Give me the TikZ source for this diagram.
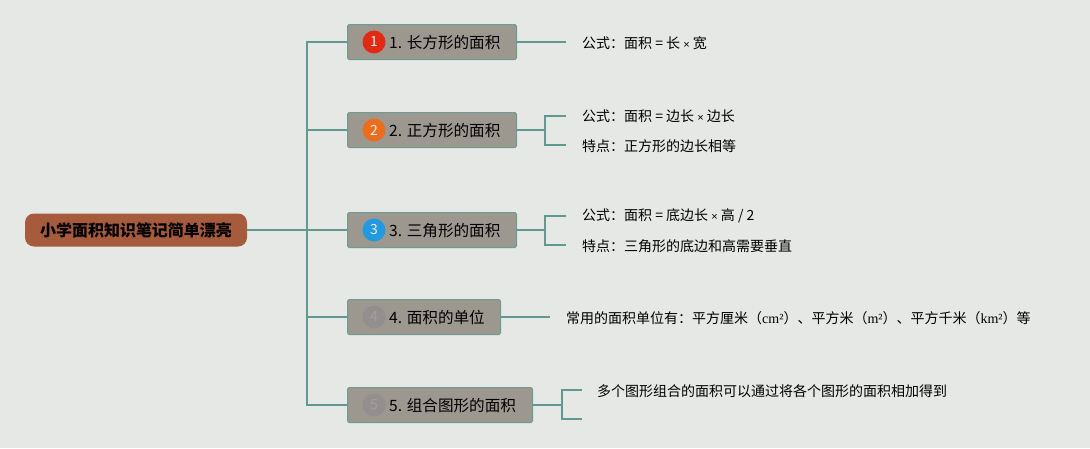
\documentclass[tikz,border=0pt]{standalone}
\usepackage{fontspec}
\setmainfont{Noto Sans CJK SC}
\newfontfamily\latinsans{Liberation Sans}
\newfontfamily\latinserif{Liberation Serif}
\newcommand{\tms}{{\latinsans\fontsize{11}{11}\selectfont ×}}
\newcommand{\unitx}[1]{{\latinserif #1}}
\begin{document}
\begin{tikzpicture}[x=1pt,y=-1pt,
  conn/.style={draw=linec, line width=1.6pt},
  rootbox/.style={fill=rootc, rounded corners=9pt, minimum width=222pt, minimum height=33pt, inner sep=0pt, font=\fontsize{16}{16}\selectfont\bfseries},
  topicbox/.style={fill=topicc, draw=topicb, line width=1pt, rounded corners=1.5pt, minimum height=35pt, inner sep=0pt, anchor=west},
  topictext/.style={anchor=west, inner sep=0pt, font=\fontsize{15.6}{16}\selectfont},
  numc/.style={circle, minimum size=23pt, inner sep=0pt, text=white!85!gray, font=\fontsize{14}{14}\selectfont},
  leaf/.style={anchor=west, inner sep=0pt, font=\fontsize{14}{14}\selectfont}
]
\definecolor{bgc}{HTML}{E6E8E5}
\definecolor{rootc}{HTML}{A65B3D}
\definecolor{topicc}{HTML}{9C978F}
\definecolor{topicb}{HTML}{6E9C92}
\definecolor{linec}{HTML}{5F9990}
\definecolor{c1}{HTML}{E12A14}
\definecolor{c2}{HTML}{EB6E1E}
\definecolor{c3}{HTML}{2399DF}
\definecolor{c4}{HTML}{928F8E}
\fill[bgc] (0,0) rectangle (1090,448);
\useasboundingbox (0,0) rectangle (1090,448);

% root
\node[rootbox] (root) at (136,230) {小学面积知识笔记简单漂亮};
\coordinate (trunk) at (307,230);

% topics
\node[topicbox, minimum width=169pt] (b1) at (347,42) {};
\node[topicbox, minimum width=169pt] (b2) at (347,130) {};
\node[topicbox, minimum width=169pt] (b3) at (347,230) {};
\node[topicbox, minimum width=153pt] (b4) at (347,317) {};
\node[topicbox, minimum width=185pt] (b5) at (347,405) {};

\node[numc, fill=c1] (n1) at (374,42) {1};
\node[numc, fill=c2] (n2) at (374,130) {2};
\node[numc, fill=c3] (n3) at (374,230) {3};
\node[numc, fill=c4, text=c4!85!white] (n4) at (374,317) {4};
\node[numc, fill=c4, text=c4!85!white] (n5) at (374,405) {5};

\node[topictext] (t1) at (389,43) {1. 长方形的面积};
\node[topictext] (t2) at (389,131) {2. 正方形的面积};
\node[topictext] (t3) at (389,231) {3. 三角形的面积};
\node[topictext] (t4) at (389,318) {4. 面积的单位};
\node[topictext] (t5) at (389,406) {5. 组合图形的面积};

% trunk connectors
\draw[conn] (root.east) -- (trunk);
\draw[conn] (b1.west) -- (307,42) -- (307,405) -- (b5.west);
\draw[conn] (trunk) -- (b3.west);
\draw[conn] (b2.west) -- (307,130);
\draw[conn] (b4.west) -- (307,317);

% leaves
\node[leaf] (l1) at (582,43) {公式：面积 = 长 \tms{} 宽};
\node[leaf] (l2a) at (582,116) {公式：面积 = 边长 \tms{} 边长};
\node[leaf] (l2b) at (582,146) {特点：正方形的边长相等};
\node[leaf] (l3a) at (582,216) {公式：面积 = 底边长 \tms{} 高 / 2};
\node[leaf] (l3b) at (582,246) {特点：三角形的底边和高需要垂直};
\node[leaf] (l4) at (566,318) {常用的面积单位有：平方厘米（\unitx{cm²}）、平方米（\unitx{m²}）、平方千米（\unitx{km²}）等};
\node[leaf] (l5a) at (597,391) {多个图形组合的面积可以通过将各个图形的面积相加得到};
\coordinate (l5b) at (582,419);

\coordinate (e1) at (566,42);
\coordinate (e2a) at (566,116);
\coordinate (e2b) at (566,145);
\coordinate (e3a) at (566,216);
\coordinate (e3b) at (566,245);
\coordinate (e4) at (550,317);
\coordinate (e5a) at (582,390);

\draw[conn] (b1.east) -- (e1);
\draw[conn] (b2.east) -- (545,130);
\draw[conn] (e2a) -- (545,116) -- (545,145) -- (e2b);
\draw[conn] (b3.east) -- (545,230);
\draw[conn] (e3a) -- (545,216) -- (545,245) -- (e3b);
\draw[conn] (b4.east) -- (e4);
\draw[conn] (b5.east) -- (562,405);
\draw[conn] (e5a) -- (562,390) -- (562,419) -- (l5b);
\end{tikzpicture}
\end{document}
